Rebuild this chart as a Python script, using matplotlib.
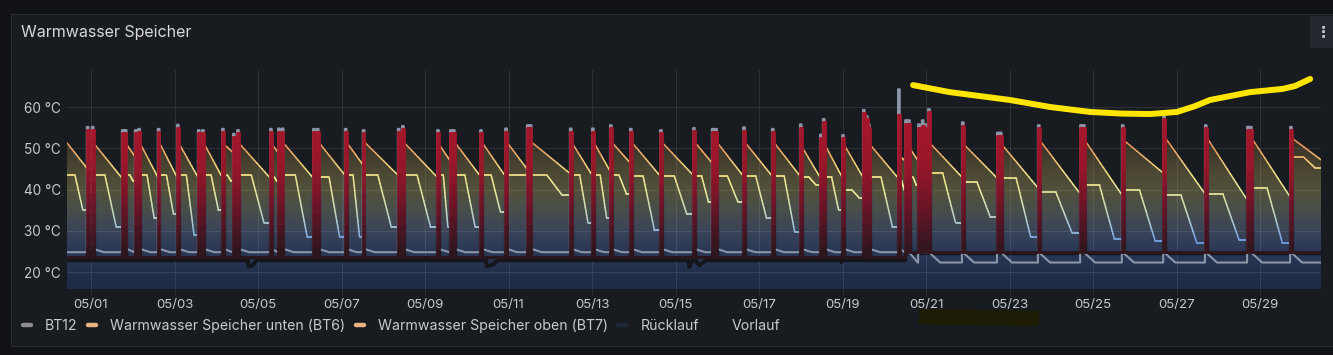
import numpy as np
import matplotlib
matplotlib.use("Agg")
import matplotlib.pyplot as plt
from matplotlib.colors import LinearSegmentedColormap, Normalize
from matplotlib.collections import LineCollection
from matplotlib.patches import Rectangle
from matplotlib.lines import Line2D

plt.rcParams['font.family'] = ['Inter', 'DejaVu Sans']

# ---------------------------------------------------------------- Daten
# Zeit in Tagen ab 01.05. 00:00
t_start, t_end = -0.575, 29.46
tick_days = [0, 2, 4, 6, 8, 10, 12, 14, 16, 18, 20, 22, 24, 26, 28]
tick_labels = ['05/01', '05/03', '05/05', '05/07', '05/09', '05/11', '05/13', '05/15',
               '05/17', '05/19', '05/21', '05/23', '05/25', '05/27', '05/29']
y_ticks = [20, 30, 40, 50, 60]
y_labels = ['20 °C', '30 °C', '40 °C', '50 °C', '60 °C']
legend_labels = ['BT12', 'Warmwasser Speicher unten (BT6)', 'Warmwasser Speicher oben (BT7)',
                 'Rücklauf', 'Vorlauf']

# Ladevorgänge (Spitzen je Ladung)
charge_spikes = [[-0.10, 0.02], [0.74, 0.81], [1.05, 1.13], [1.60], [2.06], [2.56, 2.66],
                 [3.14], [3.40, 3.50], [4.29], [4.48, 4.57], [5.32, 5.41], [6.08], [6.51],
                 [7.35, 7.45], [8.29], [8.60, 8.67], [9.32], [9.92], [10.44, 10.51], [11.47],
                 [12.00], [12.43], [12.91], [13.63], [14.42], [14.87, 14.95], [15.62], [16.31],
                 [16.98], [17.46, 17.53], [17.99], [18.49, 18.56, 18.61], [19.33], [19.50, 19.57],
                 [19.81, 19.90, 19.98, 20.05], [20.86], [21.70, 21.77], [22.68], [23.69, 23.76],
                 [24.69], [25.68], [26.68], [27.69, 27.76], [28.72]]
vl_peak = [[54.4, 54.4], [53.6, 53.6], [53.6, 53.9], [53.9], [54.9], [53.6, 53.6],
           [53.9], [52.7, 53.6], [53.9], [54.0, 54.0], [53.9, 53.9], [53.9], [53.6],
           [53.9, 54.6], [53.6], [53.6, 53.6], [53.6], [54.0], [54.8, 54.8], [54.0],
           [54.0], [54.8], [53.9], [53.6], [54.1], [53.9, 53.9], [54.3], [53.9],
           [55.0], [52.5, 56.3], [52.4], [58.5, 57.0, 55.0], [58.0], [56.0, 56.0],
           [55.0, 55.5, 55.0, 58.7], [55.5], [53.0, 53.0], [54.8], [54.8, 54.8],
           [54.8], [57.0], [54.8], [54.4, 54.4], [54.4]]
bt12_peak = [[55.2, 55.2], [54.4, 54.4], [54.4, 54.7], [54.7], [55.7], [54.4, 54.4],
             [54.7], [53.5, 54.4], [54.7], [54.8, 54.8], [54.7, 54.7], [54.7], [54.4],
             [54.7, 55.4], [54.4], [54.4, 54.4], [54.4], [54.8], [55.6, 55.6], [54.8],
             [54.8], [55.6], [54.7], [54.4], [54.9], [54.7, 54.7], [55.1], [54.7],
             [55.8], [53.3, 57.1], [53.2], [59.3, 57.8, 55.8], [64.3], [56.8, 56.8],
             [55.8, 56.8, 55.8, 59.5], [56.3], [53.8, 53.8], [55.6], [55.6, 55.6],
             [55.6], [57.8], [55.6], [55.2, 55.2], [55.2]]
rl_peak = [40, 38, 40, 39, 40, 40, 38, 40, 38, 40, 40, 39, 40, 40, 38, 40, 39, 39, 40, 39,
           39, 38, 40, 40, 38, 40, 40, 40, 39, 40, 38, 41, 36, 40, 42, 41, 41, 41, 42,
           41, 42, 41, 42, 42]

# Speichertemperaturen je Ladung: nach der Ladung / vor der nächsten Ladung
bt7_init = [51.3, 45.2]
bt7_hi = [51.3, 51.0, 51.3, 51.3, 51.3, 51.3, 51.0, 51.3, 51.0, 51.3, 51.5, 51.5, 51.5,
          51.5, 51.0, 51.5, 51.5, 51.5, 51.5, 51.5, 51.5, 51.5, 51.5, 51.5, 51.5, 51.5,
          51.5, 51.5, 50.5, 51.0, 51.0, 51.0, 48.0, 50.0, 51.3, 51.0, 51.0, 52.0, 52.0,
          52.0, 52.7, 52.7, 52.5, 52.5]
bt7_lo = [42.8, 48.0, 43.0, 43.0, 43.0, 43.0, 49.0, 42.8, 49.0, 42.8, 43.5, 46.0, 43.5,
          43.0, 47.0, 43.3, 43.3, 45.0, 43.9, 43.5, 44.5, 46.5, 43.3, 43.5, 46.5, 43.3,
          43.3, 43.3, 43.0, 43.0, 43.0, 42.8, 47.0, 47.0, 43.0, 42.8, 40.4, 39.0, 38.7,
          44.0, 39.0, 37.5, 38.2, 47.2]
bt6_init = [43.5, 35.0]
bt6_hi = [43.5, 43.5, 43.5, 43.5, 43.5, 43.5, 43.5, 43.5, 43.0, 43.5, 43.0, 43.5, 43.5,
          43.5, 43.5, 43.5, 43.5, 43.5, 43.5, 43.5, 43.5, 43.5, 43.3, 43.3, 43.3, 43.3,
          43.3, 43.3, 43.0, 43.0, 40.0, 43.0, 42.0, 43.0, 44.0, 41.8, 42.8, 39.4, 41.0,
          40.0, 38.7, 39.0, 40.4, 47.9]
bt6_lo = [30.9, 42.0, 33.0, 34.0, 29.0, 35.0, 42.0, 32.0, 42.0, 28.5, 28.5, 28.5, 31.0,
          31.0, 31.0, 31.0, 34.5, 43.5, 38.6, 32.0, 33.0, 39.0, 30.2, 34.0, 37.0, 37.0,
          33.0, 29.7, 41.0, 35.0, 38.0, 31.0, 40.0, 41.0, 32.0, 33.3, 28.5, 29.5, 28.0,
          27.5, 27.0, 27.8, 27.0, 45.2]

# Grundlinien vor / nach dem Umbau am 20.05.
regime_switch = 19.4
bt12_base = [24.8, 22.3]
bt12_after = [25.6, 24.6]
rl_base = [23.0, 24.6]
vl_base = [23.6, 24.9]
# Einbrüche des Rücklaufs: Beginn, Dauer, Tiefstwert
dip_day = [3.75, 9.45, 14.30, 17.95]
dip_len = [0.22, 0.30, 0.45, 0.50]
dip_val = [21.3, 21.4, 21.2, 22.4]

# Handschriftliche Markierung (gelb) und Textmarker unter 05/21-05/23
mark_x = [19.69, 20.57, 22.01, 22.97, 23.93, 24.70, 25.37, 26.01, 26.44, 26.80, 27.76,
          28.55, 28.84, 29.20]
mark_y = [65.3, 63.6, 61.7, 60.0, 58.8, 58.4, 58.3, 58.8, 60.2, 61.7, 63.6, 64.4, 65.1, 66.8]
smear_x = [19.83, 22.71]
smear_y = [9.2, 8.7]

# ---------------------------------------------------------------- Reihen aufbauen
SPIKE_W = 0.04
starts = [g[0] for g in charge_spikes]
ends = [g[-1] + SPIKE_W for g in charge_spikes]
nexts = starts[1:] + [t_end]


def regime(t):
    return 0 if t < regime_switch else 1


def spike_series(peaks, base, after=None):
    xs, ys = [t_start], [base[0]]
    for g, spikes in enumerate(charge_spikes):
        for s, p in zip(spikes, peaks[g]):
            b = base[regime(s)]
            down = after[regime(s)] if after else b
            xs += [s, s, s + SPIKE_W, s + SPIKE_W]
            ys += [ys[-1], p, p, down]
        if after:
            xs.append(min(ends[g] + 0.25, nexts[g] - 0.01))
            ys.append(base[regime(ends[g])])
    xs.append(t_end)
    ys.append(base[1])
    return xs, ys


vl_x, vl_y = spike_series(vl_peak, vl_base)
bt12_x, bt12_y = spike_series(bt12_peak, bt12_base, bt12_after)
rl_x, rl_y = spike_series([[p] * len(s) for p, s in zip(rl_peak, charge_spikes)], rl_base)
# Einbrüche einsortieren
pts = list(zip(rl_x, rl_y))
for d, L, v in zip(dip_day, dip_len, dip_val):
    b = rl_base[regime(d)]
    pts += [(d, b), (d + 0.03, v), (d + L * 0.6, v + 0.4), (d + L, b)]
pts.sort(key=lambda p: p[0])
rl_x, rl_y = [p[0] for p in pts], [p[1] for p in pts]

b7x, b7y = [t_start, starts[0]], bt7_init[:]
for g in range(len(charge_spikes)):
    b7x += [ends[g], nexts[g]]
    b7y += [bt7_hi[g], bt7_lo[g]]

L0 = starts[0] - t_start
b6x = [t_start, t_start + 0.4 * L0, t_start + 0.8 * L0, starts[0]]
b6y = [bt6_init[0], bt6_init[0], bt6_init[1], bt6_init[1]]
for g in range(len(charge_spikes)):
    L = nexts[g] - ends[g]
    b6x += [ends[g], ends[g] + 0.4 * L, ends[g] + 0.8 * L, nexts[g]]
    b6y += [bt6_hi[g], bt6_hi[g], bt6_lo[g], bt6_lo[g]]

# ---------------------------------------------------------------- Farben
def stops_cmap(name, lo, hi, stops):
    return LinearSegmentedColormap.from_list(name, [((v - lo) / (hi - lo), c) for v, c in stops])

tank_cmap = stops_cmap('tank', 25, 55, [(25, '#5b8ee0'), (28, '#7aa6e2'), (31, '#a4c4dc'),
                                        (35, '#cad9bc'), (39, '#e4e4a0'), (43, '#efe38c'),
                                        (46, '#f0cc78'), (49, '#eba868'), (52, '#e48a5a'),
                                        (55, '#dc7450')])
vl_cmap = stops_cmap('vl', 20, 58, [(20, '#1c1418'), (24, '#2a161c'), (30, '#481522'),
                                    (38, '#751427'), (46, '#981629'), (58, '#a8172b')])
rl_cmap = stops_cmap('rl', 20, 42, [(20, '#141519'), (26, '#16181e'), (32, '#26335e'),
                                    (42, '#2f3f78')])
fill_cmap = stops_cmap('fill', 15, 55, [(15, '#1d2943'), (20, '#22304c'), (25, '#2a3856'),
                                        (30, '#3a4558'), (35, '#484e4a'), (40, '#52513a'),
                                        (45, '#4a4632'), (50, '#3c3629'), (55, '#30291f')])


def colored_line(ax, x, y, cmap, vmin, vmax, lw, z, steps=12):
    x = np.asarray(x, float)
    y = np.asarray(y, float)
    f = np.linspace(0, 1, steps + 1)
    a, b = f[:-1], f[1:]
    dx = (x[1:] - x[:-1])[:, None]
    dy = (y[1:] - y[:-1])[:, None]
    sx0, sx1 = x[:-1, None] + dx * a, x[:-1, None] + dx * b
    sy0, sy1 = y[:-1, None] + dy * a, y[:-1, None] + dy * b
    segs = np.stack([np.stack([sx0.ravel(), sy0.ravel()], -1),
                     np.stack([sx1.ravel(), sy1.ravel()], -1)], 1)
    mid = (sy0 + sy1).ravel() / 2
    lc = LineCollection(segs, colors=cmap(Normalize(vmin, vmax)(mid)), linewidths=lw,
                        zorder=z, capstyle='round', joinstyle='round')
    ax.add_collection(lc)


# ---------------------------------------------------------------- Figur
W, H = 1333, 355
fig = plt.figure(figsize=(W / 100, H / 100), dpi=100)
fig.patch.set_facecolor('#111217')

fig.patches.append(Rectangle((10.5 / W, 1 - 346 / H), 1340 / W, 332 / H, transform=fig.transFigure,
                             facecolor='#181b1f', edgecolor='#2a2d34', lw=0.8, zorder=-5))
fig.patches.append(Rectangle((1310 / W, 1 - 48 / H), 30 / W, 32 / H, transform=fig.transFigure,
                             facecolor='#24272d', edgecolor='none', zorder=-4))
fig.text(1323 / W, 1 - 32 / H, '⋮', color='#c4c6cc', fontsize=11, ha='center', va='center',
         family='DejaVu Sans', weight='bold')
fig.text(21 / W, 1 - 33 / H, 'Warmwasser Speicher', color='#d8d9de', fontsize=11.5,
         va='center', ha='left')

y_bot, y_top = 15.88, 68.97
ax = fig.add_axes([67 / W, 1 - 289 / H, (1321 - 67) / W, (289 - 70) / H])
ax.set_xlim(t_start, t_end)
ax.set_ylim(y_bot, y_top)
ax.patch.set_visible(False)
for sp in ax.spines.values():
    sp.set_visible(False)

# Verlaufsfüllung unter BT7
poly = ax.fill_between(b7x, b7y, y_bot, facecolor='none', edgecolor='none')
grad = np.linspace(y_bot, y_top, 300)[:, None]
im = ax.imshow(grad, cmap=fill_cmap, norm=Normalize(15, 55), origin='lower', aspect='auto',
               extent=[t_start, t_end, y_bot, y_top], zorder=0, interpolation='bilinear')
im.set_clip_path(poly.get_paths()[0], transform=ax.transData)

ax.set_axisbelow(True)
ax.grid(True, color='#ccccdc', alpha=0.12, lw=0.75)

colored_line(ax, rl_x, rl_y, rl_cmap, 20, 42, 2.4, 3)
ax.plot(bt12_x, bt12_y, color='#8c94a8', lw=1.5, zorder=4, solid_joinstyle='round')
colored_line(ax, b6x, b6y, tank_cmap, 25, 55, 1.1, 5)
colored_line(ax, b7x, b7y, tank_cmap, 25, 55, 1.1, 5)
colored_line(ax, vl_x, vl_y, vl_cmap, 20, 58, 2.0, 6)

ax.set_xticks(tick_days, tick_labels)
ax.set_yticks(y_ticks, y_labels)
ax.tick_params(axis='x', length=4.3, color='#2e3036', labelsize=9.5, labelcolor='#c7c9d1', pad=3)
ax.tick_params(axis='y', length=0, labelsize=9.8, labelcolor='#c7c9d1', pad=4.3)

# Markierungen aus dem Screenshot
ax.plot(smear_x, smear_y, color='#1d1d05', lw=11, solid_capstyle='butt', clip_on=False, zorder=1)
ax.plot(mark_x, mark_y, color='#ffe600', lw=4.3, solid_capstyle='round',
        solid_joinstyle='round', clip_on=False, zorder=10)

handles = [Line2D([], [], color=c, lw=3.2, solid_capstyle='round')
           for c in ['#8e8e8e', '#e9b47f', '#e9b47f', '#1e2738', '#181b1f']]
ax.legend(handles, legend_labels, loc='center left', bbox_to_anchor=(23 / W, 1 - 326 / H),
          bbox_transform=fig.transFigure, ncol=5, frameon=False, fontsize=10.2,
          labelcolor='#c7c9d1', handlelength=0.55, handletextpad=1.0, columnspacing=0.75,
          borderpad=0, borderaxespad=0)

fig.savefig('out.png', dpi=100, facecolor=fig.get_facecolor())
